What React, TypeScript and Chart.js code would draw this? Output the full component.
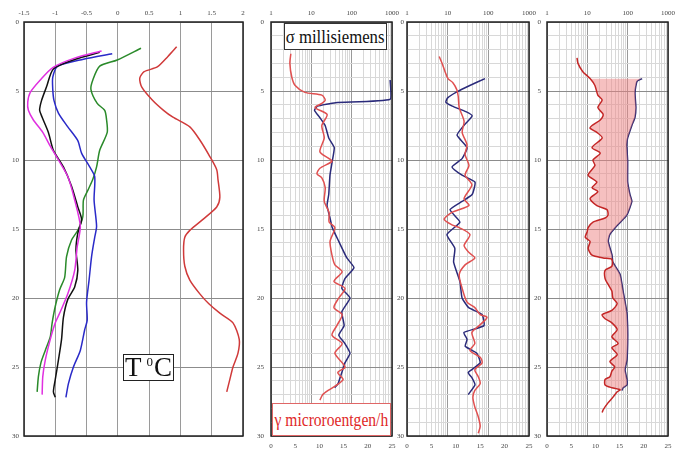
import React, { useEffect, useRef } from "react";
import { Chart, registerables } from "chart.js";
Chart.register(...registerables);

// ---------- Panel 1: temperature (°C) vs depth ----------
const magentaDepth = [2.1, 2.6, 3.3, 4.2, 5.1, 5.8, 6.4, 7.1, 8.0, 9.0, 10.0, 11.2, 12.9, 14.8, 16.3, 18.0, 19.7, 21.0, 21.8, 23.0, 24.5, 25.7, 27.0];
const magentaTemp = [-0.26, -0.68, -1.04, -1.24, -1.4, -1.44, -1.43, -1.35, -1.2, -1.08, -0.95, -0.8, -0.69, -0.6, -0.65, -0.69, -0.8, -0.92, -1.0, -1.08, -1.16, -1.2, -1.21];

const blackDepth = [2.2, 2.7, 3.4, 4.7, 5.7, 6.4, 6.9, 8.0, 9.3, 10.5, 11.9, 13.4, 14.3, 15.3, 16.5, 18.0, 19.2, 20.1, 21.4, 23.0, 24.5, 25.9, 26.8, 27.2];
const blackTemp = [-0.29, -0.68, -1.03, -1.14, -1.22, -1.25, -1.21, -1.11, -1.03, -0.87, -0.74, -0.64, -0.58, -0.64, -0.67, -0.64, -0.69, -0.8, -0.87, -0.9, -0.95, -1.0, -1.03, -1.0];

const blueDepth = [2.3, 2.7, 3.2, 4.0, 4.9, 5.7, 6.6, 7.6, 8.6, 9.5, 10.5, 11.2, 12.9, 14.8, 15.6, 17.0, 18.7, 20.3, 21.6, 22.3, 23.8, 25.0, 26.2, 27.2];
const blueTemp = [-0.09, -0.55, -0.96, -1.04, -1.04, -1.02, -0.95, -0.8, -0.64, -0.58, -0.45, -0.37, -0.38, -0.34, -0.37, -0.42, -0.46, -0.5, -0.49, -0.53, -0.6, -0.71, -0.79, -0.83];

const greenDepth = [1.9, 2.75, 3.2, 4.2, 4.9, 5.9, 6.4, 7.1, 8.0, 9.3, 10.5, 11.4, 12.2, 12.9, 14.1, 15.1, 15.8, 17.0, 18.5, 19.4, 20.6, 21.8, 22.8, 23.8, 24.7, 25.7, 26.8];
const greenTemp = [0.37, -0.01, -0.29, -0.4, -0.43, -0.33, -0.21, -0.18, -0.17, -0.29, -0.34, -0.4, -0.48, -0.55, -0.56, -0.64, -0.74, -0.82, -0.85, -0.93, -1.0, -1.05, -1.08, -1.16, -1.23, -1.27, -1.29];

const redDepth = [1.8, 2.5, 3.26, 3.6, 4.06, 4.7, 5.65, 6.4, 6.9, 7.6, 8.55, 9.75, 10.7, 11.4, 12.7, 13.4, 14.3, 15.1, 15.6, 16.5, 17.7, 18.7, 19.7, 20.4, 21.1, 21.8, 23.0, 24.0, 25.0, 25.9, 26.8];
const redTemp = [0.94, 0.8, 0.63, 0.42, 0.35, 0.38, 0.55, 0.73, 0.88, 1.15, 1.31, 1.47, 1.58, 1.6, 1.63, 1.58, 1.36, 1.15, 1.07, 1.05, 1.07, 1.15, 1.31, 1.45, 1.63, 1.84, 1.94, 1.92, 1.84, 1.79, 1.74];

// ---------- Panel 2: sigma (log, top) and gamma (linear, bottom) ----------
const p2SigmaDepth = [4.2, 5.6, 5.85, 6.1, 6.4, 6.9, 7.5, 8.4, 9.1, 10.1, 11.1, 12.5, 13.3, 14.2, 14.9, 15.9, 17.1, 17.8, 18.6, 19.3, 20.0, 21.0, 22.0, 22.7, 23.3, 24.0, 24.7, 25.4, 26.2, 26.5];
const p2Sigma = [900, 900, 40, 14, 12, 16, 22, 27, 37, 33, 29, 27, 24.5, 29, 33, 48, 76, 114, 68, 57, 91, 57, 65, 48, 68, 91, 68, 57, 46, 38];
const p2GammaDepth = [2.3, 3.0, 4.0, 4.6, 5.1, 5.3, 5.65, 5.9, 6.2, 6.7, 7.5, 8.4, 9.4, 9.9, 10.1, 10.6, 11.0, 11.3, 12.0, 13.0, 13.8, 14.5, 14.9, 15.9, 16.9, 17.6, 18.1, 18.8, 19.3, 20.0, 20.7, 21.2, 22.0, 22.7, 23.3, 24.0, 25.0, 25.4, 25.9, 26.3, 26.7, 27.0, 27.4];
const p2Gamma = [4.1, 3.9, 4.3, 5.0, 7.0, 10.5, 11.2, 10.5, 9.1, 11.6, 10.5, 11.0, 10.1, 12.0, 12.6, 10.1, 9.5, 10.5, 11.2, 11.0, 12.0, 12.0, 13.2, 12.2, 12.6, 13.2, 14.7, 13.0, 15.3, 14.0, 13.0, 14.7, 13.6, 12.6, 14.7, 13.2, 15.3, 13.8, 14.9, 13.6, 11.8, 10.7, 10.1];

// ---------- Panel 3 ----------
const p3SigmaDepth = [4.1, 4.6, 5.1, 5.5, 5.8, 6.1, 6.5, 6.8, 7.5, 8.2, 9.1, 9.9, 10.5, 11.1, 11.6, 12.5, 13.0, 13.6, 14.5, 15.4, 16.4, 17.4, 18.8, 20.0, 20.7, 21.2, 22.0, 22.5, 23.0, 23.5, 24.0, 24.7, 25.4, 25.8, 26.3, 27.0];
const p3Sigma = [83, 35, 16, 10, 9, 13, 28, 40, 25, 17, 30, 22.6, 12.8, 22.6, 47, 40, 22.6, 11.4, 20, 9.6, 15, 14, 20, 22.6, 33, 70, 78, 25, 30, 27, 52, 63, 32, 40, 47, 32];
const p3GammaDepth = [2.5, 3.0, 3.6, 4.1, 4.4, 4.9, 5.4, 6.2, 7.2, 8.0, 8.9, 9.6, 10.4, 11.1, 11.8, 12.8, 13.3, 13.8, 14.3, 14.7, 14.9, 15.4, 16.2, 16.7, 17.1, 17.6, 18.3, 19.3, 20.3, 20.7, 21.2, 21.4, 22.0, 22.5, 23.3, 23.8, 24.3, 24.7, 25.2, 25.7, 26.2, 26.7, 27.2, 27.9, 28.6, 29.3, 29.8];
const p3Gamma = [6.6, 7.2, 7.8, 8.4, 9.4, 10.2, 10.5, 10.7, 11.7, 11.3, 12.3, 11.9, 12.7, 11.9, 13.3, 11.7, 12.7, 9.2, 7.6, 9.2, 10.7, 12.9, 11.7, 12.7, 13.9, 11.9, 10.7, 11.3, 12.3, 13.9, 15.0, 16.4, 14.8, 13.3, 13.9, 12.9, 15.0, 15.4, 13.9, 14.6, 15.0, 13.9, 13.5, 13.9, 14.6, 15.0, 14.6];

// ---------- Panel 4 ----------
const p4GammaDepth = [2.6, 3.0, 3.6, 4.1, 4.6, 5.3, 5.65, 6.2, 6.7, 7.1, 7.5, 7.7, 8.0, 8.4, 9.1, 9.5, 10.0, 10.4, 11.1, 11.6, 12.0, 12.3, 12.8, 13.3, 13.6, 14.0, 14.2, 14.5, 14.9, 15.2, 15.6, 15.9, 16.4, 16.9, 17.1, 17.2, 17.7, 18.0, 18.6, 19.0, 19.5, 20.0, 20.4, 20.9, 21.2, 21.5, 21.8, 22.3, 22.8, 23.3, 23.6, 24.1, 24.6, 25.0, 25.3, 25.7, 25.9, 26.3, 26.5, 26.65, 26.8, 27.2, 27.6, 28.1, 28.3];
const p4Gamma = [6.2, 6.4, 7.4, 8.9, 9.9, 10.5, 11.4, 10.5, 11.6, 11.0, 9.3, 8.9, 10.3, 11.4, 9.3, 11.0, 9.5, 9.9, 8.5, 10.3, 9.3, 10.5, 8.9, 10.3, 12.4, 12.6, 12.0, 9.5, 8.5, 8.3, 7.9, 8.9, 8.5, 9.3, 11.6, 13.4, 13.4, 12.0, 12.0, 12.6, 13.4, 13.6, 14.5, 13.4, 11.4, 12.0, 13.4, 14.5, 13.4, 14.7, 13.4, 14.5, 13.0, 14.0, 13.4, 13.0, 12.0, 12.0, 13.4, 15.1, 14.5, 13.6, 12.6, 11.6, 11.4];
const p4SigmaDepth = [4.1, 4.3, 5.1, 6.2, 6.9, 7.5, 8.4, 8.9, 10.1, 11.6, 12.5, 13.0, 14.0, 14.7, 15.4, 15.9, 16.9, 17.4, 18.3, 19.5, 21.0, 22.2, 23.3, 24.5, 25.2, 25.9, 26.3, 26.5, 26.7];
const p4Sigma = [228, 170, 152, 160, 152, 127, 100, 95, 100, 100, 114, 127, 95, 57, 36, 33, 41, 43, 65, 77, 95, 100, 100, 96, 86, 96, 96, 77, 72];

// ---------- tick values ----------
const decades = [1, 10, 100, 1000];
const logTickValues = [1, 2, 3, 4, 5, 6, 7, 8, 9, 10, 20, 30, 40, 50, 60, 70, 80, 90, 100, 200, 300, 400, 500, 600, 700, 800, 900, 1000];

const FONT = { family: "'Liberation Serif', 'Times New Roman', serif", size: 7 };
const TICK = "#444";

const pts = (depth: number[], vals: number[]) => depth.map((d, i) => ({ x: vals[i], y: d }));

const framePlugin = {
  id: "frame",
  afterDraw(chart: any) {
    const { ctx, chartArea: a } = chart;
    ctx.save();
    ctx.strokeStyle = "#222";
    ctx.lineWidth = 1.5;
    ctx.strokeRect(a.left, a.top, a.right - a.left, a.bottom - a.top);
    ctx.restore();
  },
};

function depthScale(step: number, pad: number) {
  return {
    type: "linear",
    axis: "y",
    position: "left",
    reverse: true,
    min: 0,
    max: 30,
    afterFit: (s: any) => {
      s.width = 20;
    },
    border: { display: false },
    grid: {
      drawTicks: false,
      lineWidth: 1,
      color: (c: any) => (c.tick && Number(c.tick.value) % 5 === 0 ? "#8c8c8c" : "#d8d8d8"),
    },
    ticks: {
      stepSize: step,
      autoSkip: false,
      padding: pad,
      font: FONT,
      color: TICK,
      callback: (v: any) => (Number(v) % 5 === 0 ? String(v) : ""),
    },
  };
}

function sigmaScale() {
  return {
    type: "logarithmic",
    axis: "x",
    position: "top",
    min: 1,
    max: 1000,
    afterFit: (s: any) => {
      s.height = 22;
    },
    afterBuildTicks: (s: any) => {
      s.ticks = logTickValues.map((v) => ({ value: v }));
    },
    border: { display: false },
    grid: {
      drawTicks: false,
      lineWidth: 1,
      color: (c: any) => (c.tick && decades.includes(Number(c.tick.value)) ? "#9a9a9a" : "#d8d8d8"),
    },
    ticks: {
      autoSkip: false,
      maxRotation: 0,
      padding: 5,
      font: FONT,
      color: TICK,
      callback: (v: any) => (decades.includes(Number(v)) ? String(v) : ""),
    },
  };
}

function gammaScale() {
  return {
    type: "linear",
    axis: "x",
    position: "bottom",
    min: 0,
    max: 25,
    afterFit: (s: any) => {
      s.height = 13;
    },
    border: { display: false },
    grid: { display: false, drawTicks: false },
    ticks: { stepSize: 5, autoSkip: false, maxRotation: 0, padding: 6, font: FONT, color: TICK },
  };
}

function baseOptions(padding: any, scales: any) {
  return {
    animation: false,
    responsive: false,
    maintainAspectRatio: false,
    indexAxis: "y",
    events: [],
    layout: { padding },
    plugins: { legend: { display: false }, tooltip: { enabled: false } },
    elements: { point: { radius: 0 }, line: { tension: 0.25, borderWidth: 1.5 } },
    scales,
  };
}

function line(data: any, color: string, xAxisID: string, extra: any = {}) {
  return { data, borderColor: color, backgroundColor: color, xAxisID, yAxisID: "y", fill: false, pointRadius: 0, ...extra };
}

function panel1Config(): any {
  return {
    type: "line",
    data: {
      datasets: [
        line(pts(redDepth, redTemp), "#d03a3a", "xt"),
        line(pts(magentaDepth, magentaTemp), "#e030e0", "xt"),
        line(pts(blackDepth, blackTemp), "#111111", "xt"),
        line(pts(blueDepth, blueTemp), "#2a2ac8", "xt"),
        line(pts(greenDepth, greenTemp), "#2a8a2a", "xt"),
      ],
    },
    options: baseOptions(
      { left: 4, right: 438, top: 0, bottom: 13 },
      {
        xt: {
          type: "linear",
          axis: "x",
          position: "top",
          min: -1.5,
          max: 2,
          afterFit: (s: any) => {
            s.height = 22;
          },
          border: { display: false },
          grid: { drawTicks: false, color: "#9a9a9a", lineWidth: 1 },
          ticks: { stepSize: 0.5, autoSkip: false, maxRotation: 0, padding: 5, font: FONT, color: TICK, callback: (v: any) => String(v) },
        },
        y: depthScale(5, 5),
      }
    ),
    plugins: [framePlugin],
  };
}

function logPanelConfig(
  gammaData: any,
  sigmaData: any,
  padding: any,
  yPad: number,
  red: string,
  blue: string,
  fillColor: string | null
): any {
  const redSet = line(gammaData, red, "xg", fillColor ? { fill: 1, backgroundColor: fillColor } : {});
  return {
    type: "line",
    data: {
      datasets: [redSet, line(sigmaData, blue, "xs", { tension: 0.15 })],
    },
    options: baseOptions(padding, {
      xs: sigmaScale(),
      xg: gammaScale(),
      y: depthScale(1, yPad),
    }),
    plugins: [framePlugin],
  };
}

export default function App() {
  const r1 = useRef<HTMLCanvasElement>(null);
  const r2 = useRef<HTMLCanvasElement>(null);
  const r3 = useRef<HTMLCanvasElement>(null);
  const r4 = useRef<HTMLCanvasElement>(null);

  useEffect(() => {
    const charts: Chart[] = [];
    charts.push(new Chart(r1.current as HTMLCanvasElement, panel1Config()));
    charts.push(
      new Chart(
        r2.current as HTMLCanvasElement,
        logPanelConfig(pts(p2GammaDepth, p2Gamma), pts(p2SigmaDepth, p2Sigma), { left: 251, right: 289, top: 0, bottom: 0 }, 7, "#e05050", "#2a2a7a", null)
      )
    );
    charts.push(
      new Chart(
        r3.current as HTMLCanvasElement,
        logPanelConfig(pts(p3GammaDepth, p3Gamma), pts(p3SigmaDepth, p3Sigma), { left: 387, right: 152, top: 0, bottom: 0 }, 3, "#e05050", "#2a2a7a", null)
      )
    );
    charts.push(
      new Chart(
        r4.current as HTMLCanvasElement,
        logPanelConfig(
          pts(p4GammaDepth, p4Gamma),
          pts(p4SigmaDepth, p4Sigma),
          { left: 527, right: 13, top: 0, bottom: 0 },
          6,
          "#c42626",
          "#252570",
          "rgba(238,130,130,0.5)"
        )
      )
    );
    return () => charts.forEach((c) => c.destroy());
  }, []);

  const serif = "'Liberation Serif', 'Times New Roman', serif";
  const canvasStyle: React.CSSProperties = { position: "absolute", left: 0, top: 0 };

  return (
    <div style={{ position: "absolute", left: 0, top: 0, width: 681, height: 449, background: "#fff", overflow: "hidden" }}>
      <canvas ref={r1} width={681} height={449} style={canvasStyle} />
      <canvas ref={r2} width={681} height={449} style={canvasStyle} />
      <canvas ref={r3} width={681} height={449} style={canvasStyle} />
      <canvas ref={r4} width={681} height={449} style={canvasStyle} />

      <div
        style={{
          position: "absolute",
          left: 123,
          top: 354,
          width: 51,
          height: 27,
          boxSizing: "border-box",
          border: "1.5px solid #222",
          background: "#fff",
          fontFamily: serif,
          fontSize: 27,
          lineHeight: "25px",
          color: "#111",
          textAlign: "center",
          whiteSpace: "nowrap",
        }}
      >
        T<span style={{ fontSize: 13, position: "relative", top: -10, margin: "0 1px 0 5px" }}>0</span>C
      </div>

      <div
        style={{
          position: "absolute",
          left: 284,
          top: 23,
          width: 103,
          height: 27,
          boxSizing: "border-box",
          border: "1.5px solid #333",
          background: "#fff",
          fontFamily: serif,
          fontSize: 18,
          lineHeight: "24px",
          color: "#111",
          display: "flex",
          justifyContent: "center",
          alignItems: "center",
          whiteSpace: "nowrap",
        }}
      >
        <span style={{ display: "inline-block", flexShrink: 0, transform: "scaleX(0.93)" }}>σ millisiemens</span>
      </div>

      <div
        style={{
          position: "absolute",
          left: 272,
          top: 403,
          width: 119,
          height: 33,
          boxSizing: "border-box",
          border: "1.5px solid #e06666",
          background: "#fff",
          fontFamily: serif,
          fontSize: 19,
          lineHeight: "30px",
          color: "#e02828",
          display: "flex",
          justifyContent: "center",
          alignItems: "center",
          whiteSpace: "nowrap",
        }}
      >
        <span style={{ display: "inline-block", flexShrink: 0, transform: "scaleX(0.82)" }}>γ microroentgen/h</span>
      </div>
    </div>
  );
}
